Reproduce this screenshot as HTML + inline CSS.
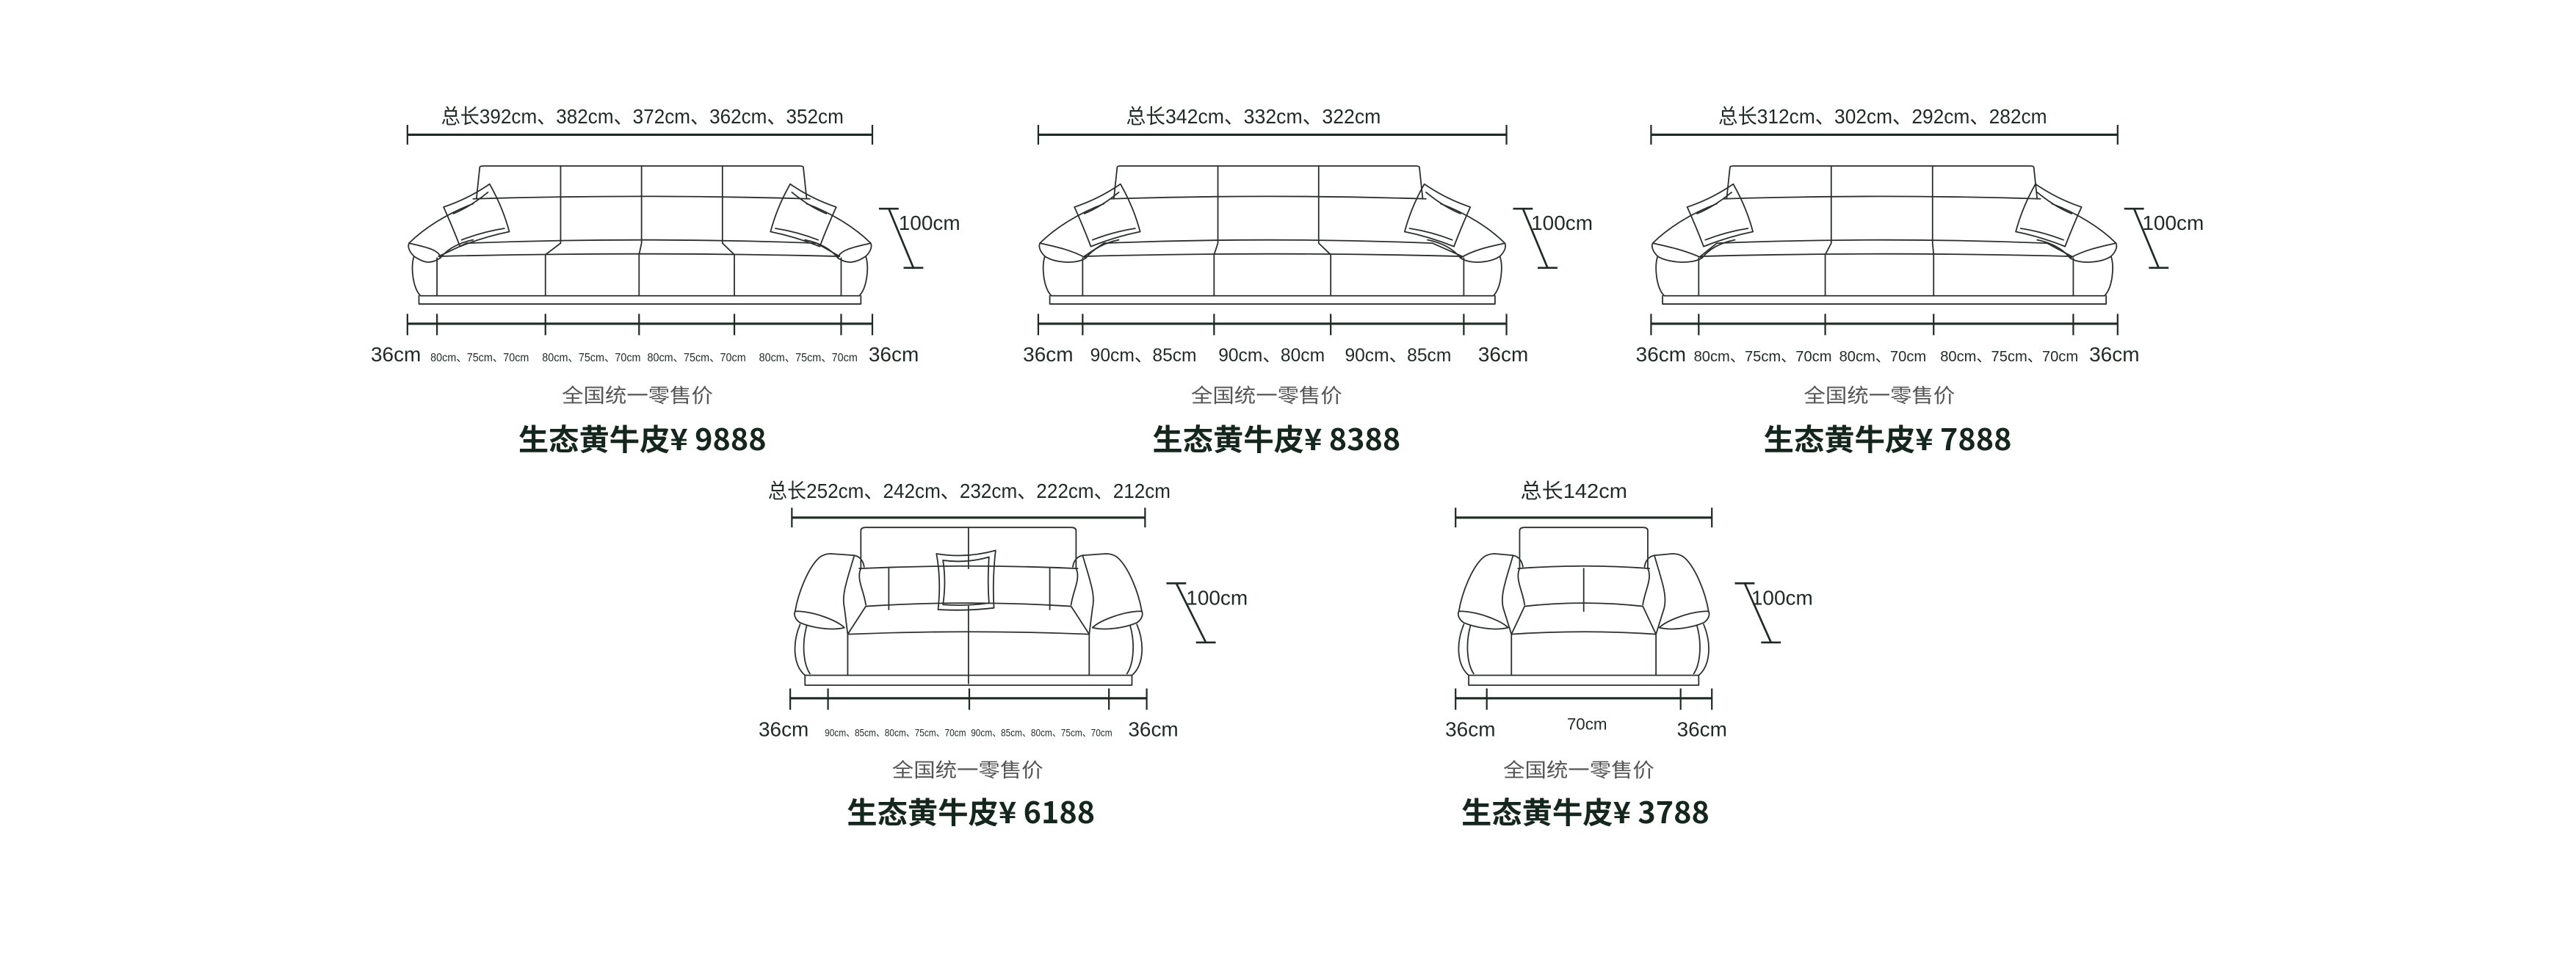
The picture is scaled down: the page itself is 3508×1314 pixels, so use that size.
<!DOCTYPE html>
<html><head><meta charset="utf-8">
<style>
html,body{margin:0;padding:0;background:#fff;}
svg{display:block;}
text{font-family:"Liberation Sans","Noto Sans CJK SC",sans-serif;fill:#1f2b25;}
.dim{font-size:12.5px;}
.cn{font-family:"Noto Sans CJK SC","Liberation Sans",sans-serif;font-size:12px;fill:#555;}
.pr{font-family:"Noto Sans CJK SC","Liberation Sans",sans-serif;font-size:18px;font-weight:bold;fill:#14261d;}
.sm{font-size:7px;}
</style></head>
<body>
<svg id="s" width="3508" height="1314" viewBox="0 0 1568 587.3" xmlns="http://www.w3.org/2000/svg">
<g id="shapes" fill="none" stroke="#2a2f2c" stroke-width="0.8" stroke-linejoin="round" stroke-linecap="round"></g>
<g id="dims" fill="none" stroke="#1f2b25" stroke-width="1.4"></g>

<!-- Sofa 1 -->
<text class="dim" x="391" y="75" text-anchor="middle" textLength="245" lengthAdjust="spacingAndGlyphs">总长392cm、382cm、372cm、362cm、352cm</text>
<text class="dim" x="241" y="220" text-anchor="middle">36cm</text>
<text class="sm" x="292" y="220" text-anchor="middle" textLength="60" lengthAdjust="spacingAndGlyphs">80cm、75cm、70cm</text>
<text class="sm" x="360" y="220" text-anchor="middle" textLength="60" lengthAdjust="spacingAndGlyphs">80cm、75cm、70cm</text>
<text class="sm" x="424" y="220" text-anchor="middle" textLength="60" lengthAdjust="spacingAndGlyphs">80cm、75cm、70cm</text>
<text class="sm" x="492" y="220" text-anchor="middle" textLength="60" lengthAdjust="spacingAndGlyphs">80cm、75cm、70cm</text>
<text class="dim" x="544" y="220" text-anchor="middle">36cm</text>
<text class="dim" x="547" y="140">100cm</text>
<text class="cn" x="388" y="245" text-anchor="middle" textLength="92" lengthAdjust="spacingAndGlyphs">全国统一零售价</text>
<text class="pr" x="391" y="274" text-anchor="middle" textLength="151" lengthAdjust="spacingAndGlyphs">生态黄牛皮¥ 9888</text>

<!-- Sofa 2 -->
<text class="dim" x="763" y="75" text-anchor="middle" textLength="155" lengthAdjust="spacingAndGlyphs">总长342cm、332cm、322cm</text>
<text class="dim" x="638" y="220" text-anchor="middle">36cm</text>
<text class="dim" x="696" y="220" text-anchor="middle" style="font-size:11px">90cm、85cm</text>
<text class="dim" x="774" y="220" text-anchor="middle" style="font-size:11px">90cm、80cm</text>
<text class="dim" x="851" y="220" text-anchor="middle" style="font-size:11px">90cm、85cm</text>
<text class="dim" x="915" y="220" text-anchor="middle">36cm</text>
<text class="dim" x="932" y="140">100cm</text>
<text class="cn" x="771" y="245" text-anchor="middle" textLength="92" lengthAdjust="spacingAndGlyphs">全国统一零售价</text>
<text class="pr" x="777" y="274" text-anchor="middle" textLength="151" lengthAdjust="spacingAndGlyphs">生态黄牛皮¥ 8388</text>

<!-- Sofa 3 -->
<text class="dim" x="1146" y="75" text-anchor="middle" textLength="200" lengthAdjust="spacingAndGlyphs">总长312cm、302cm、292cm、282cm</text>
<text class="dim" x="1011" y="220" text-anchor="middle">36cm</text>
<text class="dim" x="1073" y="220" text-anchor="middle" style="font-size:9px">80cm、75cm、70cm</text>
<text class="dim" x="1146" y="220" text-anchor="middle" style="font-size:9px">80cm、70cm</text>
<text class="dim" x="1223" y="220" text-anchor="middle" style="font-size:9px">80cm、75cm、70cm</text>
<text class="dim" x="1287" y="220" text-anchor="middle">36cm</text>
<text class="dim" x="1304" y="140">100cm</text>
<text class="cn" x="1144" y="245" text-anchor="middle" textLength="92" lengthAdjust="spacingAndGlyphs">全国统一零售价</text>
<text class="pr" x="1149" y="274" text-anchor="middle" textLength="151" lengthAdjust="spacingAndGlyphs">生态黄牛皮¥ 7888</text>

<!-- Sofa 4 -->
<text class="dim" x="590" y="303" text-anchor="middle" textLength="245" lengthAdjust="spacingAndGlyphs">总长252cm、242cm、232cm、222cm、212cm</text>
<text class="dim" x="477" y="448" text-anchor="middle">36cm</text>
<text class="sm" x="545" y="448" text-anchor="middle" style="font-size:6px" textLength="86" lengthAdjust="spacingAndGlyphs">90cm、85cm、80cm、75cm、70cm</text>
<text class="sm" x="634" y="448" text-anchor="middle" style="font-size:6px" textLength="86" lengthAdjust="spacingAndGlyphs">90cm、85cm、80cm、75cm、70cm</text>
<text class="dim" x="702" y="448" text-anchor="middle">36cm</text>
<text class="dim" x="722" y="368">100cm</text>
<text class="cn" x="589" y="473" text-anchor="middle" textLength="92" lengthAdjust="spacingAndGlyphs">全国统一零售价</text>
<text class="pr" x="591" y="501" text-anchor="middle" textLength="151" lengthAdjust="spacingAndGlyphs">生态黄牛皮¥ 6188</text>

<!-- Sofa 5 -->
<text class="dim" x="958" y="303" text-anchor="middle" textLength="65" lengthAdjust="spacingAndGlyphs">总长142cm</text>
<text class="dim" x="895" y="448" text-anchor="middle">36cm</text>
<text class="dim" x="966" y="444" text-anchor="middle" style="font-size:10px">70cm</text>
<text class="dim" x="1036" y="448" text-anchor="middle">36cm</text>
<text class="dim" x="1066" y="368">100cm</text>
<text class="cn" x="961" y="473" text-anchor="middle" textLength="92" lengthAdjust="spacingAndGlyphs">全国统一零售价</text>
<text class="pr" x="965" y="501" text-anchor="middle" textLength="151" lengthAdjust="spacingAndGlyphs">生态黄牛皮¥ 3788</text>
</svg>
<script>
var G=document.getElementById('shapes'),D=document.getElementById('dims');
function P(g,d,w){var p=document.createElementNS('http://www.w3.org/2000/svg','path');p.setAttribute('d',d);if(w)p.setAttribute('stroke-width',w);g.appendChild(p);}
function L(g,a,b,c,d,w){P(g,'M'+a+','+b+'L'+c+','+d,w);}
function dimTop(x0,x1,y){L(D,x0,y,x1,y);L(D,x0,y-6,x0,y+6,1);L(D,x1,y-6,x1,y+6,1);}
function dimBot(t,y){L(D,t[0],y,t[t.length-1],y);t.forEach(function(x){L(D,x,y-6,x,y+7,1);});}
function hm(x1,y1,x2,y2){L(D,x1-6,y1,x1+6,y1,1.2);L(D,x2-6,y2,x2+6,y2,1.2);L(D,x1,y1,x2,y2,1.2);}
function pillow(pts){var s='M'+pts[0]+' Q'+pts[1]+' '+pts[2]+' Q'+pts[3]+' '+pts[4]+' Q'+pts[5]+' '+pts[6]+' Q'+pts[7]+' '+pts[0]+'Z';P(G,s);}
function wide(t,bx0,bx1,n){
 var x0=t[0],x1=t[t.length-1],a1=t[1],a2=t[t.length-2];
 P(G,'M'+(bx0-2)+',121 L'+bx0+',102 Q'+bx0+',101 '+(bx0+2)+',101 L'+(bx1-2)+',101 Q'+bx1+',101 '+bx1+',102 L'+(bx1+2)+',121');
 var bd=[];for(var i=1;i<n;i++){var x=bx0+(bx1-bx0)*i/n;bd.push(x);L(G,x,101,x,121);}
 P(G,'M'+(bx0-4)+',121 Q'+((bx0+bx1)/2)+',118 '+(bx1+4)+',121');
 var sd=t.slice(2,t.length-2);
 for(var i=0;i<sd.length;i++){var b=bd[i];P(G,'M'+b+',121 L'+b+',148 L'+sd[i]+',155 L'+sd[i]+',180');}
 P(G,'M'+(bx0-8)+',148 Q'+((bx0+bx1)/2)+',144 '+(bx1+8)+',148');
 P(G,'M'+(a1+1)+',156 Q'+((x0+x1)/2)+',153 '+(a2-1)+',156');
 L(G,a1+1,156,bx0-8,148);L(G,a2-1,156,bx1+8,148);
 L(G,a1,157,a1,180);L(G,a2,157,a2,180);
 L(G,a1,180,a2,180);
 P(G,'M'+(x0+7)+',180 L'+(x0+7)+',185 L'+(x1-7)+',185 L'+(x1-7)+',180');
 [[x0,a1,1],[x1,a2,-1]].forEach(function(q){var X=q[0],A=q[1],s=q[2];function f(dx){return X+s*dx;}
  P(G,'M'+A+',180 L'+f(8)+',180 C'+f(3)+',175 '+f(2)+',162 '+f(4)+',156');
  P(G,'M'+f(1)+',148 C'+f(10)+',150 '+f(20)+',152 '+(A+s*2)+',157 C'+(A-s*4)+',161 '+f(10)+',160 '+f(4)+',156 C'+f(1)+',153 '+f(0)+',150 '+f(1)+',148');
  P(G,'M'+f(1)+',148 C'+f(10)+',139 '+f(24)+',130 '+f(40)+',124');
  P(G,'M'+(A+s*2)+',157 C'+(A+s*6)+',152 '+(A+s*12)+',148 '+(A+s*22)+',146');
 });
 [[x0,1],[x1,-1]].forEach(function(q){var X=q[0],s=q[1];function f(dx){return X+s*dx;}
  pillow([f(22)+',126',f(37)+',121',f(50)+',112',f(58)+',126',f(62)+',141',f(47)+',144',f(32)+',150',f(27)+',137']);
  P(G,'M'+f(28)+',130 Q'+f(38)+',126 '+f(49)+',117 M'+f(33)+',146 Q'+f(46)+',141 '+f(59)+',139');
 });
}
function small(t,bx0,bx1,love){
 var x0=t[0],x1=t[t.length-1],mid=(x0+x1)/2,sl=x0+34,sr=x1-34;
 P(G,'M'+bx0+',346 L'+bx0+',323 Q'+bx0+',321 '+(bx0+3)+',321 L'+(bx1-3)+',321 Q'+bx1+',321 '+bx1+',323 L'+bx1+',346');
 if(love){L(G,mid,321,mid,346);}
 P(G,'M'+(bx0-1)+',346 Q'+mid+',343 '+(bx1+1)+',346');
 P(G,'M'+bx0+',346 C'+(bx0-3)+',352 '+(bx0+2)+',360 '+(bx0+3)+',368');
 P(G,'M'+bx1+',346 C'+(bx1+3)+',352 '+(bx1-2)+',360 '+(bx1-3)+',368');
 P(G,'M'+(bx0+3)+',369 Q'+mid+',365 '+(bx1-3)+',369');
 if(love){L(G,541,346,541,371);L(G,639,346,639,371);L(G,mid,369,mid,416);}
 else{L(G,mid,346,mid,372);}
 L(G,bx0+3,369,sl,386);L(G,bx1-3,369,sr,386);
 P(G,'M'+sl+',386 Q'+mid+',383 '+sr+',386');
 L(G,sl,386,sl,411);L(G,sr,386,sr,411);
 P(G,'M'+(x0+8)+',411 L'+(x1-8)+',411');
 P(G,'M'+(x0+8)+',411 L'+(x0+8)+',417 L'+(x1-8)+',417 L'+(x1-8)+',411');
 [[x0,bx0,1],[x1,bx1,-1]].forEach(function(q){var X=q[0],B=q[1],s=q[2];function f(dx){return X+s*dx;}
  P(G,'M'+f(2)+',372 C'+f(4)+',360 '+f(10)+',346 '+f(16)+',340 Q'+f(19)+',337 '+f(24)+',337 L'+(B-s*4)+',338 Q'+(B+s*1)+',339 '+(B+s*2)+',345');
  P(G,'M'+(B-s*4)+',338 C'+(B-s*8)+',352 '+(B-s*12)+',362 '+(B-s*10)+',370 L'+(s>0?sl:sr)+',386');
  P(G,'M'+f(2)+',372 C'+f(14)+',372 '+f(28)+',378 '+f(32)+',382 C'+f(24)+',384 '+f(12)+',382 '+f(5)+',379 C'+f(2)+',377 '+f(1)+',374 '+f(2)+',372');
  P(G,'M'+f(5)+',380 C'+f(0)+',392 '+f(1)+',405 '+f(8)+',411');
  P(G,'M'+f(9)+',381 C'+f(6)+',392 '+f(7)+',404 '+f(11)+',410');
 });
 if(love){
  P(G,'M570,337 Q588,340 606,335 Q604,353 605,370 Q588,372 571,371 Q573,353 570,337 Z');
  P(G,'M574,341 Q588,343 602,339 Q601,354 602,367 Q588,369 574,368 Q576,354 574,341 Z');
 }
}
dimTop(248,531,82);dimBot([248,266,332,389,447,512,531],197);hm(541,127,556,163);
dimTop(632,917,82);dimBot([632,659,739,810,891,917],197);hm(927,127,942,163);
dimTop(1005,1289,82);dimBot([1005,1034,1111,1177,1262,1289],197);hm(1299,127,1314,163);
dimTop(482,697,315);dimBot([481,504,590,675,698],425);hm(716,355,734,391);
dimTop(886,1042,315);dimBot([886,905,1023,1042],425);hm(1062,355,1078,391);
wide([248,266,332,389,447,512,531],292,489,4);
wide([632,659,739,810,891,917],680,864,3);
wide([1005,1034,1111,1177,1262,1289],1053,1238,3);
small([482,504,590,675,697],524,655,true);
small([886,905,1023,1042],925,1003,false);
</script>
</body></html>
